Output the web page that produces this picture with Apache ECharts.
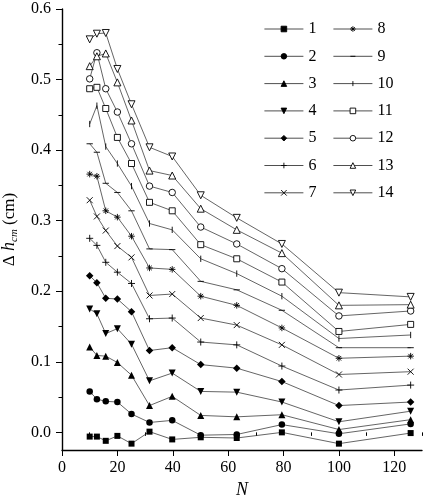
<!DOCTYPE html>
<html>
<head>
<meta charset="utf-8">
<script src="https://cdn.jsdelivr.net/npm/echarts@6/dist/echarts.min.js"></script>
<style>
html, body { margin: 0; padding: 0; background: #fff; }
#container { width: 424px; height: 496px; }
</style>
</head>
<body>
<div id="container"></div>
<script>
// N values (x axis)
var nValues = [10, 12.6, 15.8, 20, 25.1, 31.6, 39.8, 50.1, 63.1, 79.4, 100, 125.9];

// series values, delta h_cm (cm)
var s1 = [-0.006, -0.006, -0.012, -0.005, -0.016, 0.001, -0.010, -0.007, -0.008, 0.000, -0.016, -0.001];
var s2 = [0.058, 0.047, 0.044, 0.043, 0.026, 0.014, 0.017, -0.004, -0.003, 0.011, -0.002, 0.012];
var s3 = [0.121, 0.109, 0.108, 0.099, 0.081, 0.038, 0.051, 0.024, 0.022, 0.025, 0.004, 0.018];
var s4 = [0.175, 0.168, 0.140, 0.147, 0.125, 0.073, 0.084, 0.058, 0.057, 0.043, 0.015, 0.030];
var s5 = [0.222, 0.212, 0.190, 0.189, 0.171, 0.116, 0.120, 0.096, 0.091, 0.072, 0.038, 0.043];
var s6 = [0.275, 0.265, 0.241, 0.227, 0.211, 0.161, 0.162, 0.128, 0.124, 0.094, 0.060, 0.067];
var s7 = [0.329, 0.306, 0.286, 0.264, 0.248, 0.194, 0.196, 0.162, 0.152, 0.124, 0.082, 0.086];
var s8 = [0.366, 0.363, 0.314, 0.305, 0.278, 0.233, 0.231, 0.193, 0.180, 0.148, 0.105, 0.108];
var s9 = [0.409, 0.397, 0.353, 0.340, 0.314, 0.260, 0.259, 0.214, 0.202, 0.173, 0.120, 0.120];
var s10 = [0.437, 0.463, 0.405, 0.381, 0.349, 0.296, 0.287, 0.246, 0.225, 0.193, 0.133, 0.138];
var s11 = [0.487, 0.489, 0.459, 0.418, 0.381, 0.326, 0.314, 0.266, 0.246, 0.213, 0.143, 0.153];
var s12 = [0.501, 0.538, 0.487, 0.454, 0.409, 0.349, 0.340, 0.291, 0.267, 0.232, 0.165, 0.172];
var s13 = [0.519, 0.533, 0.537, 0.496, 0.442, 0.371, 0.364, 0.317, 0.287, 0.254, 0.180, 0.181];
var s14 = [0.557, 0.565, 0.566, 0.515, 0.465, 0.404, 0.391, 0.336, 0.304, 0.267, 0.198, 0.192];

var seriesNames = ['1', '2', '3', '4', '5', '6', '7', '8', '9', '10', '11', '12', '13', '14'];
var seriesValues = [s1, s2, s3, s4, s5, s6, s7, s8, s9, s10, s11, s12, s13, s14];

// tick labels
var xTicks = [0, 20, 40, 60, 80, 100, 120];
var xMinorTicks = [10, 30, 50, 70, 90, 110, 130];
var yTicks = [0.0, 0.1, 0.2, 0.3, 0.4, 0.5, 0.6];
var yMinorTicks = [0.05, 0.15, 0.25, 0.35, 0.45, 0.55];

// marker shapes (line shapes keep a square box so the legend draws them right)
var plus = 'path://M0,5L10,5M5,0L5,10';
var cross = 'path://M0,0L10,10M10,0L0,10';
var star = 'path://M0,5L10,5M5,0L5,10M1.5,1.5L8.5,8.5M8.5,1.5L1.5,8.5';
var dash = 'path://M0,0L0.01,0M0.5,5L9.5,5M9.99,10L10,10';
var vbar = 'path://M0,0L0,0.01M5,0.5L5,9.5M10,9.99L10,10';

var marks = [
	{symbol: 'rect', size: 6, fill: '#000'},
	{symbol: 'circle', size: 6.5, fill: '#000'},
	{symbol: 'triangle', size: 7, fill: '#000'},
	{symbol: 'triangle', size: 7, fill: '#000', rotate: 180},
	{symbol: 'diamond', size: 7.5, fill: '#000'},
	{symbol: plus, size: 7, fill: '#000', stroke: true},
	{symbol: cross, size: 6, fill: '#000', stroke: true},
	{symbol: star, size: 6.5, fill: '#000', stroke: true},
	{symbol: dash, size: 7, fill: '#000', stroke: true},
	{symbol: vbar, size: 7, fill: '#000', stroke: true},
	{symbol: 'rect', size: 6, fill: '#fff', stroke: true},
	{symbol: 'circle', size: 6.5, fill: '#fff', stroke: true},
	{symbol: 'triangle', size: 7, fill: '#fff', stroke: true},
	{symbol: 'triangle', size: 7, fill: '#fff', stroke: true, rotate: 180}
];

var serif = 'Liberation Serif';

var series = [];
for (var i = 0; i < seriesNames.length; i++) {
	var pts = [];
	for (var j = 0; j < nValues.length; j++) {
		pts.push([nValues[j], seriesValues[i][j]]);
	}
	var m = marks[i];
	series.push({
		name: seriesNames[i],
		type: 'line',
		xAxisIndex: 0,
		yAxisIndex: 0,
		data: pts,
		symbol: m.symbol,
		symbolSize: m.size,
		symbolRotate: m.rotate || 0,
		showAllSymbol: true,
		animation: false,
		lineStyle: {color: '#222', width: 0.7},
		itemStyle: {
			color: m.fill,
			borderColor: '#000',
			borderWidth: m.stroke ? 0.9 : 0
		},
		z: 2
	});
}

var option = {
	backgroundColor: '#fff',
	animation: false,
	grid: {
		left: 62,
		right: 2,
		top: 9,
		bottom: 46,
		outerBoundsMode: 'none',
		containLabel: false
	},
	legend: [
		{
			data: seriesNames.slice(0, 7),
			orient: 'vertical',
			left: 264,
			top: 21,
			padding: 0,
			itemWidth: 39,
			itemHeight: 7,
			itemGap: 11.3,
			textStyle: {fontFamily: serif, fontSize: 16, color: '#000'},
			itemStyle: {borderWidth: 0.9},
			lineStyle: {width: 0.8, color: '#222'}
		},
		{
			data: seriesNames.slice(7),
			orient: 'vertical',
			left: 333,
			top: 21,
			padding: 0,
			itemWidth: 39,
			itemHeight: 7,
			itemGap: 11.3,
			textStyle: {fontFamily: serif, fontSize: 16, color: '#000'},
			itemStyle: {borderWidth: 0.9},
			lineStyle: {width: 0.8, color: '#222'}
		}
	],
	xAxis: [
		{
			type: 'value',
			min: 0,
			max: 130,
			name: 'N',
			nameLocation: 'middle',
			nameGap: 27,
			nameTextStyle: {fontFamily: serif, fontSize: 18, fontStyle: 'italic', color: '#000'},
			axisLine: {show: true, onZero: false, lineStyle: {color: '#000', width: 1.4}},
			axisTick: {show: true, inside: false, length: 6, customValues: xTicks, lineStyle: {color: '#000', width: 1}},
			axisLabel: {customValues: xTicks, margin: 10, fontFamily: serif, fontSize: 16, color: '#000'},
			splitLine: {show: false}
		},
		{
			// minor ticks
			type: 'value',
			min: 0,
			max: 130,
			position: 'bottom',
			axisLine: {show: false},
			axisTick: {show: true, length: 3.5, customValues: xMinorTicks, lineStyle: {color: '#000', width: 1}},
			axisLabel: {show: false},
			splitLine: {show: false}
		}
	],
	yAxis: [
		{
			type: 'value',
			min: -0.025,
			max: 0.6,
			name: '{a|Δ }{b|h}{c|cm}{a| (cm)}',
			nameLocation: 'middle',
			nameGap: 38,
			nameTextStyle: {
				color: '#000',
				rich: {
					a: {fontFamily: serif, fontSize: 17, color: '#000', lineHeight: 20},
					b: {fontFamily: serif, fontSize: 18, fontStyle: 'italic', color: '#000', lineHeight: 20},
					c: {fontFamily: serif, fontSize: 11, fontStyle: 'italic', color: '#000', lineHeight: 20, padding: [10, 0, 0, 0]}
				}
			},
			axisLine: {show: true, onZero: false, lineStyle: {color: '#000', width: 1.4}},
			axisTick: {show: true, inside: false, length: 6, customValues: yTicks, lineStyle: {color: '#000', width: 1}},
			axisLabel: {
				customValues: yTicks,
				margin: 11,
				fontFamily: serif,
				fontSize: 16,
				color: '#000',
				formatter: function (v) { return v.toFixed(1); }
			},
			splitLine: {show: false}
		},
		{
			// minor ticks
			type: 'value',
			min: -0.025,
			max: 0.6,
			position: 'left',
			axisLine: {show: false},
			axisTick: {show: true, length: 3.5, customValues: yMinorTicks, lineStyle: {color: '#000', width: 1}},
			axisLabel: {show: false},
			splitLine: {show: false}
		}
	],
	series: series
};

var myChart = echarts.init(document.getElementById('container'));
myChart.setOption(option);
</script>
</body>
</html>
